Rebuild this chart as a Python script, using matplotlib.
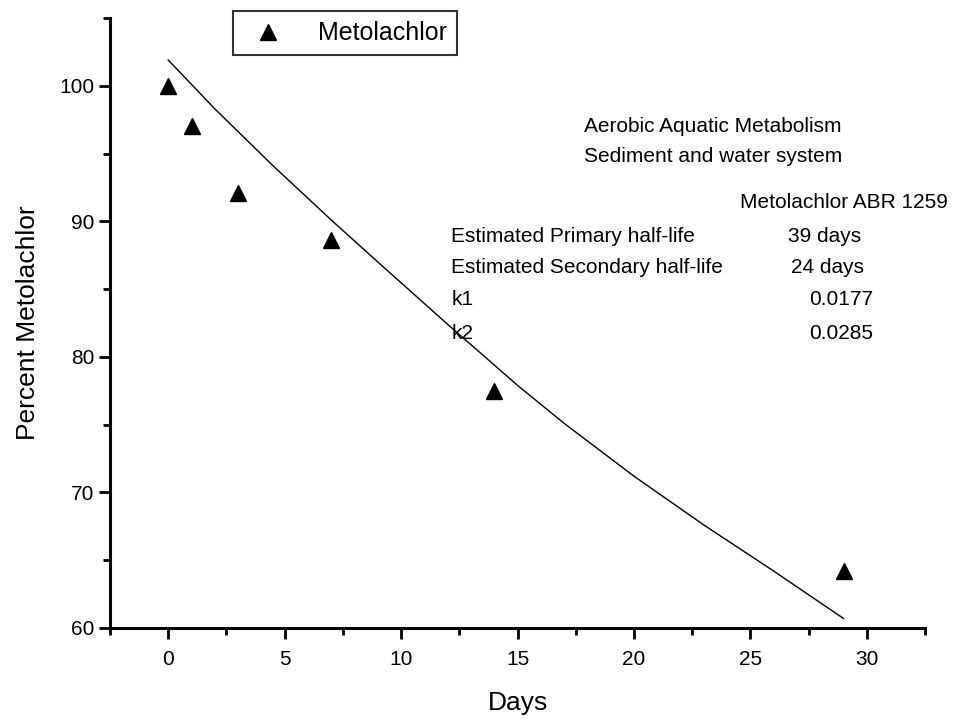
import matplotlib.pyplot as plt
from matplotlib.ticker import MultipleLocator

plt.rcParams["font.family"] = ["Liberation Sans Narrow", "Liberation Sans", "DejaVu Sans"]

# Measured data
days = [0, 1, 3, 7, 14, 29]
percent = [100.0, 97.0, 92.1, 88.6, 77.5, 64.2]

# Fitted curve
fit_days = [0, 2, 4.5, 7, 9, 12, 15, 17, 20, 23, 26, 29]
fit_percent = [101.9, 98.3, 94.1, 90.1, 87.0, 82.4, 77.9, 75.1, 71.2, 67.6, 64.2, 60.7]

info_labels = ["Estimated Primary half-life", "Estimated Secondary half-life", "k1", "k2"]
info_values = ["39 days", "24 days", "0.0177", "0.0285"]


def main():
    fig = plt.figure(figsize=(9.66, 7.21), dpi=100)
    ax = fig.add_axes([0.1139, 0.129, 0.8437, 0.846])

    ax.plot(fit_days, fit_percent, color="black", lw=1.0)
    ax.plot(days, percent, linestyle="none", marker="^", color="black",
            markersize=12, label="Metolachlor")

    ax.set_xlim(-2.5, 32.5)
    ax.set_ylim(60, 105)
    ax.xaxis.set_major_locator(MultipleLocator(5))
    ax.xaxis.set_minor_locator(MultipleLocator(2.5))
    ax.set_yticks([60, 70, 80, 90, 100])
    ax.yaxis.set_minor_locator(MultipleLocator(5))

    ax.spines["top"].set_visible(False)
    ax.spines["right"].set_visible(False)
    for s in ("left", "bottom"):
        ax.spines[s].set_linewidth(2.2)
    ax.tick_params(which="major", length=8, width=2, labelsize=15, pad=3)
    ax.tick_params(which="minor", length=5, width=2)
    ax.tick_params(axis="x", pad=8)

    ax.set_xlabel("Days", fontsize=19, labelpad=16)
    ax.set_ylabel("Percent Metolachlor", fontsize=19, labelpad=14)

    leg = ax.legend(loc="upper left", bbox_to_anchor=(0.1514, 1.011), fontsize=18,
                    frameon=True, fancybox=False, edgecolor="black",
                    borderpad=0.4, handletextpad=1.0, borderaxespad=0)
    leg.get_frame().set_linewidth(1.5)

    fs = 15
    ax.text(23.4, 97.0, "Aerobic Aquatic Metabolism", ha="center", va="center", fontsize=fs)
    ax.text(23.4, 94.8, "Sediment and water system", ha="center", va="center", fontsize=fs)
    ax.text(29.0, 91.4, "Metolachlor ABR 1259", ha="center", va="center", fontsize=fs)
    row_y = [88.9, 86.6, 84.2, 81.7]
    val_x = [28.2, 28.3, 28.9, 28.9]
    for lab, val, yy, vx in zip(info_labels, info_values, row_y, val_x):
        ax.text(12.16, yy, lab, ha="left", va="center", fontsize=fs)
        ax.text(vx, yy, val, ha="center", va="center", fontsize=fs)

    fig.savefig("out.png", dpi=100)


if __name__ == "__main__":
    main()
